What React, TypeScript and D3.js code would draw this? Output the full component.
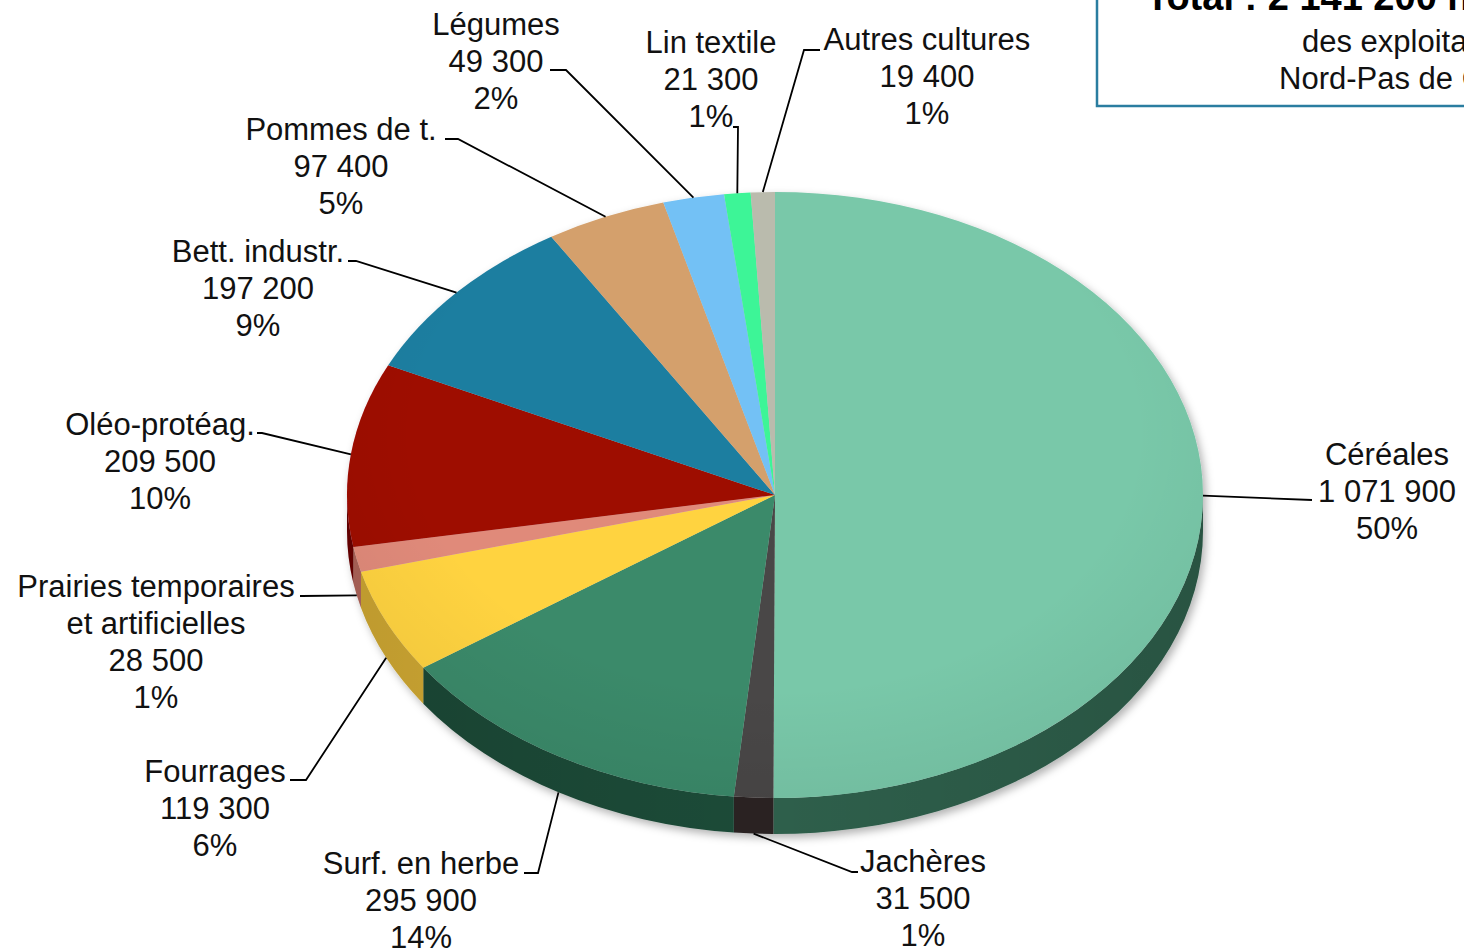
import React from "react";
import * as d3 from "d3";

const categories = ["Céréales", "Jachères", "Surf. en herbe", "Fourrages", "Prairies temporaires|et artificielles", "Oléo-protéag.", "Bett. industr.", "Pommes de t.", "Légumes", "Lin textile", "Autres cultures"];
const values = [1071900, 31500, 295900, 119300, 28500, 209500, 197200, 97400, 49300, 21300, 19400];
const valueLabels = ["1 071 900", "31 500", "295 900", "119 300", "28 500", "209 500", "197 200", "97 400", "49 300", "21 300", "19 400"];
const percentLabels = ["50%", "1%", "14%", "6%", "1%", "10%", "9%", "5%", "2%", "1%", "1%"];
const topColors = ["#79C8A9", "#4A4646", "#3A8A6A", "#FFD33F", "#E08A7A", "#9E0800", "#1E7EA0", "#D4A06C", "#73C1F5", "#3EF597", "#BABBAD"];
const sideColors = ["#2E5E4B", "#2A2424", "#1F4B39", "#D8AF36", "#B86A5E", "#6E0000", "#145872", "#A27A50", "#5092BC", "#2BB36E", "#8E8F84"];

// label layout: text center x, first line center y, elbow point, horizontal end
const labelLayout = [
  { x: 1387, y: 454, ex: 1312, ey: 500, hx: 1312 },
  { x: 923, y: 861, ex: 852, ey: 872, hx: 858 },
  { x: 421, y: 863, ex: 538, ey: 873, hx: 524 },
  { x: 215, y: 771, ex: 306, ey: 780, hx: 290 },
  { x: 156, y: 586, ex: 302, ey: 596, hx: 300 },
  { x: 160, y: 424, ex: 262, ey: 433, hx: 257 },
  { x: 258, y: 251, ex: 356, ey: 261, hx: 348 },
  { x: 341, y: 129, ex: 458, ey: 139, hx: 445 },
  { x: 496, y: 24, ex: 566, ey: 70, hx: 550 },
  { x: 711, y: 42, ex: 738, ey: 127, hx: 733 },
  { x: 927, y: 39, ex: 804, ey: 50, hx: 820 },
];

const W = 1464, H = 950;
const cx = 775, cy = 495, rx = 428, ry = 303, depth = 36;
const lineH = 37;

function pt(a: number, dy = 0): [number, number] {
  return [cx + rx * Math.sin(a), cy - ry * Math.cos(a) + dy];
}

export default function App() {
  const pie = d3.pie<number>().sort(null).startAngle(0).endAngle(2 * Math.PI)(values);

  const topPath = (a0: number, a1: number) => {
    const p0 = pt(a0), p1 = pt(a1);
    const large = a1 - a0 > Math.PI ? 1 : 0;
    return `M${cx},${cy}L${p0[0]},${p0[1]}A${rx},${ry} 0 ${large} 1 ${p1[0]},${p1[1]}Z`;
  };
  const sidePath = (a0: number, a1: number) => {
    const s = Math.max(a0, Math.PI / 2), e = Math.min(a1, (3 * Math.PI) / 2);
    if (s >= e) return null;
    const p0 = pt(s), p1 = pt(e), q1 = pt(e, depth), q0 = pt(s, depth);
    return `M${p0[0]},${p0[1]}A${rx},${ry} 0 0 1 ${p1[0]},${p1[1]}L${q1[0]},${q1[1]}A${rx},${ry} 0 0 0 ${q0[0]},${q0[1]}Z`;
  };

  const font = "'Liberation Sans', Arial, Helvetica, sans-serif";

  return (
    <svg width={W} height={H} style={{ position: "absolute", left: 0, top: 0, background: "#fff" }} fontFamily={font}>
      <defs>
        <filter id="shadow" x="-10%" y="-10%" width="120%" height="125%">
          <feDropShadow dx="3" dy="4" stdDeviation="4" floodColor="#000" floodOpacity="0.3" />
        </filter>
        <radialGradient id="shine" cx="0.5" cy="0.4" r="0.7">
          <stop offset="0.6" stopColor="#000" stopOpacity="0" />
          <stop offset="1" stopColor="#000" stopOpacity="0.08" />
        </radialGradient>
        <linearGradient id="sideShade" x1="0" x2="1" y1="0" y2="0">
          <stop offset="0" stopColor="#000" stopOpacity="0.12" />
          <stop offset="0.5" stopColor="#000" stopOpacity="0" />
          <stop offset="1" stopColor="#000" stopOpacity="0.12" />
        </linearGradient>
      </defs>

      <g filter="url(#shadow)">
        {pie.map((d, i) => {
          const p = sidePath(d.startAngle, d.endAngle);
          return p ? <path key={"s" + i} d={p} fill={sideColors[i]} /> : null;
        })}
        {pie.map((d, i) => (
          <path key={"t" + i} d={topPath(d.startAngle, d.endAngle)} fill={topColors[i]} />
        ))}
      </g>
      <ellipse cx={cx} cy={cy} rx={rx} ry={ry} fill="url(#shine)" pointerEvents="none" />
      <path
        d={`M${cx - rx},${cy}A${rx},${ry} 0 0 0 ${cx + rx},${cy}L${cx + rx},${cy + depth}A${rx},${ry} 0 0 1 ${cx - rx},${cy + depth}Z`}
        fill="url(#sideShade)"
      />

      {pie.map((d, i) => {
        const mid = (d.startAngle + d.endAngle) / 2;
        const a = pt(mid, Math.cos(mid) < -0.05 ? depth : 0);
        const L = labelLayout[i];
        return (
          <polyline
            key={"l" + i}
            points={`${a[0]},${a[1]} ${L.ex},${L.ey} ${L.hx},${L.ey}`}
            fill="none"
            stroke="#000"
            strokeWidth={1.8}
          />
        );
      })}

      {pie.map((d, i) => {
        const L = labelLayout[i];
        const lines = [...categories[i].split("|"), valueLabels[i], percentLabels[i]];
        return (
          <text key={"x" + i} textAnchor="middle" fontSize={31} fill="#111">
            {lines.map((ln, j) => (
              <tspan key={j} x={L.x} y={L.y + j * lineH} dy="0.35em">
                {ln}
              </tspan>
            ))}
          </text>
        );
      })}

      <rect x={1097} y={-10} width={400} height={116} fill="#fff" stroke="#2A7DA0" strokeWidth={2.5} />
      <text x={1146} y={10} fontSize={38} fontWeight="bold" fill="#000">Total : 2 141 200 ha</text>
      <text x={1302} y={41} dy="0.35em" fontSize={31} fill="#111">des exploitations</text>
      <text x={1279} y={78} dy="0.35em" fontSize={31} fill="#111">Nord-Pas de Calais</text>
    </svg>
  );
}
